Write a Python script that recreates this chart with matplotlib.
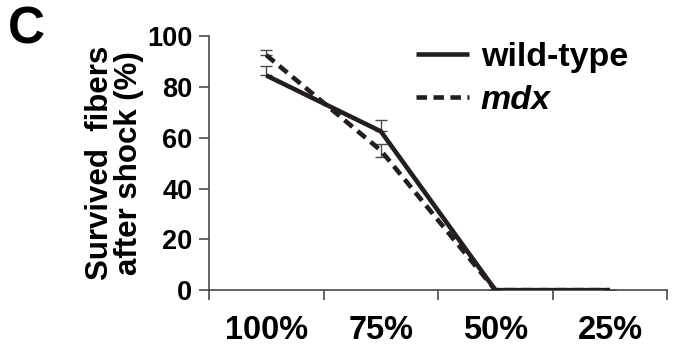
import matplotlib
matplotlib.use("Agg")
import matplotlib.pyplot as plt
import numpy as np

# Data
categories = ["100%", "75%", "50%", "25%"]
wild_type = [84.5, 62.5, 0, 0]
mdx = [92.5, 55, 0, 0]
wt_err_up = [3.8, 4.5, 0, 0]
wt_err_lo = [0, 0, 0, 0]
mdx_err_up = [2.0, 2.5, 0, 0]
mdx_err_lo = [0, 2.5, 0, 0]

plt.rcParams['font.family'] = ['Liberation Sans', 'DejaVu Sans']
plt.rcParams['font.weight'] = 'bold'

ink = '#231f20'
axis_col = '#4a4a4a'

fig = plt.figure(figsize=(6.74, 3.5), dpi=100)
ax = fig.add_axes([0.310, 0.171, 0.680, 0.726])

x = np.arange(1, len(categories) + 1)

ax.errorbar(x, wild_type, yerr=[wt_err_lo, wt_err_up], fmt='none',
            ecolor=axis_col, elinewidth=1.0, capsize=4, capthick=1.0, zorder=2)
ax.errorbar(x, mdx, yerr=[mdx_err_lo, mdx_err_up], fmt='none',
            ecolor=axis_col, elinewidth=1.0, capsize=4, capthick=1.0, zorder=2)

ax.plot(x, wild_type, color=ink, lw=3.3, solid_capstyle='butt', label='wild-type', zorder=3)
ax.plot(x, mdx, color=ink, lw=3.3, linestyle=(0, (2.3, 1.4)), dash_capstyle='butt',
        label='mdx', zorder=3)

ax.set_xlim(0.5, 4.5)
ax.set_ylim(0, 100)

# category boundary ticks (Excel style), labels centred on categories
ax.set_xticks(np.arange(0.5, 4.6, 1.0))
ax.set_xticklabels([])
ax.set_xticks(x, minor=True)
ax.set_xticklabels(categories, minor=True, fontsize=23.5, fontweight='bold')
ax.tick_params(axis='x', which='minor', length=0, pad=18)
ax.tick_params(axis='x', which='major', direction='out', length=7, width=1.2, color=axis_col)

ax.set_yticks(np.arange(0, 101, 20))
ax.tick_params(axis='y', direction='out', length=7, width=1.2, color=axis_col,
               labelsize=19.5, pad=5)
for lab in ax.get_yticklabels():
    lab.set_fontweight('bold')

for side in ['top', 'right']:
    ax.spines[side].set_visible(False)
for side in ['left', 'bottom']:
    ax.spines[side].set_color(axis_col)
    ax.spines[side].set_linewidth(1.2)

ax.set_ylabel('Survived  fibers\nafter shock (%)', fontsize=22.5, fontweight='bold',
              linespacing=0.95, labelpad=2)

leg = ax.legend(loc='upper left', bbox_to_anchor=(0.452, 0.975), frameon=False,
                fontsize=24.5, handlelength=1.55, handletextpad=0.35, labelspacing=0.35,
                borderpad=0, borderaxespad=0)
for t in leg.get_texts():
    t.set_fontweight('bold')
leg.get_texts()[1].set_fontstyle('italic')

fig.text(0.012, 0.985, 'C', fontsize=37, fontweight='bold', va='top', ha='left')

fig.savefig('out.png', dpi=100)
